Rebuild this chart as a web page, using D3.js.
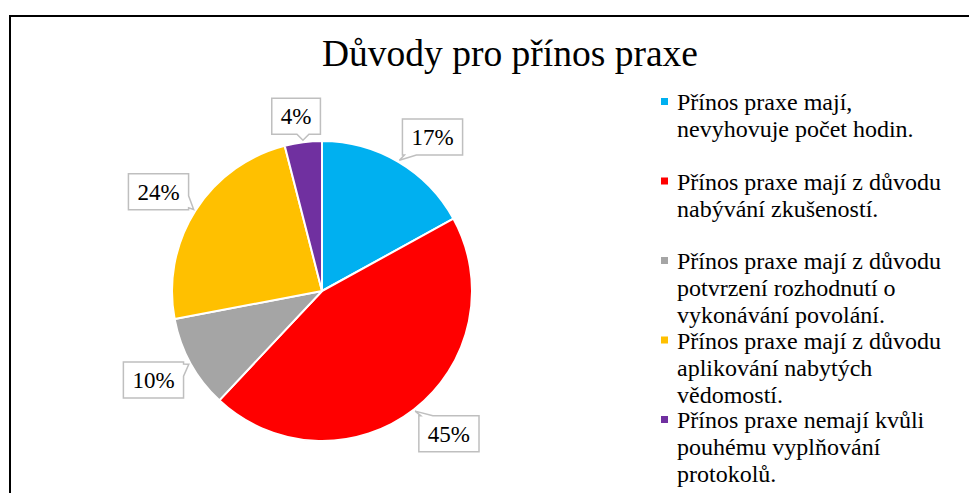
<!DOCTYPE html>
<html>
<head>
<meta charset="utf-8">
<script src="https://cdn.jsdelivr.net/npm/d3@7"></script>
<style>
  body { margin: 0; background: #fff; }
  svg { display: block; }
  text { font-family: "Liberation Serif", "Times New Roman", serif; }
</style>
</head>
<body>
<svg width="969" height="493"></svg>
<script>
// chart data
const chartTitle = 'Důvody pro přínos praxe';
const categories = [
    'Přínos praxe mají, nevyhovuje počet hodin.',
    'Přínos praxe mají z důvodu nabývání zkušeností.',
    'Přínos praxe mají z důvodu potvrzení rozhodnutí o vykonávání povolání.',
    'Přínos praxe mají z důvodu aplikování nabytých vědomostí.',
    'Přínos praxe nemají kvůli pouhému vyplňování protokolů.'
];
const values = [17, 45, 10, 24, 4];
const colors = ['#00b0f0', '#ff0000', '#a5a5a5', '#ffc000', '#7030a0'];

const svg = d3.select('svg');

// outer frame of the chart (cut by the window on the right and bottom)
svg.append('rect')
    .attr('x', 10).attr('y', 16)
    .attr('width', 1000).attr('height', 600)
    .attr('fill', 'none')
    .attr('stroke', '#000')
    .attr('stroke-width', 2);

svg.append('text')
    .attr('x', 510).attr('y', 66)
    .attr('text-anchor', 'middle')
    .attr('font-size', 37.5)
    .text(chartTitle);

/* pie */
const cx = 322, cy = 291, radius = 150;
const pie = d3.pie().sort(null).value(d => d);
const arcs = pie(values);
const arc = d3.arc().innerRadius(0).outerRadius(radius);

const g = svg.append('g').attr('transform', `translate(${cx},${cy})`);

g.selectAll('path.slice')
    .data(arcs)
    .enter()
    .append('path')
    .attr('class', 'slice')
    .attr('d', arc)
    .attr('fill', (d, i) => colors[i])
    .attr('stroke', '#fff')
    .attr('stroke-width', 2)
    .attr('stroke-linejoin', 'round');

/* callout labels: box pushed outward from an anchor just outside the rim,
   with a small tail pointing back at the slice */
const anchorArc = d3.arc().innerRadius(158).outerRadius(158);
const tipArc = d3.arc().innerRadius(152).outerRadius(152);
const clamp = (v, lo, hi) => Math.max(lo, Math.min(hi, v));

function calloutPath(x0, y0, x1, y1, tx, ty) {
    const hw = 6;
    let p;
    if (ty > y1) {
        const b = clamp(tx, x0 + 8, x1 - 8);
        p = [[x0, y0], [x1, y0], [x1, y1], [b + hw, y1], [tx, ty], [b - hw, y1], [x0, y1]];
    } else if (ty < y0) {
        const b = clamp(tx, x0 + 8, x1 - 8);
        p = [[x0, y0], [b - hw, y0], [tx, ty], [b + hw, y0], [x1, y0], [x1, y1], [x0, y1]];
    } else if (tx > x1) {
        const b = clamp(ty, y0 + 8, y1 - 8);
        p = [[x0, y0], [x1, y0], [x1, b - hw], [tx, ty], [x1, b + hw], [x1, y1], [x0, y1]];
    } else {
        const b = clamp(ty, y0 + 8, y1 - 8);
        p = [[x0, y0], [x1, y0], [x1, y1], [x0, y1], [x0, b + hw], [tx, ty], [x0, b - hw]];
    }
    return 'M' + p.map(q => q.join(',')).join('L') + 'Z';
}

const labelG = g.selectAll('g.lbl')
    .data(arcs)
    .enter()
    .append('g')
    .attr('class', 'lbl');

labelG.each(function (d) {
    const sel = d3.select(this);
    const txt = sel.append('text')
        .attr('text-anchor', 'middle')
        .attr('font-size', 23)
        .attr('fill', '#000')
        .text(d.value + '%');
    const w = txt.node().getComputedTextLength() + 18;
    const h = 36;
    const mid = (d.startAngle + d.endAngle) / 2;
    const [ax, ay] = anchorArc.centroid(d);
    const [tx, ty] = tipArc.centroid(d);
    const bx = ax + (w / 2) * clamp(Math.sin(mid) * 2, -1, 1);
    const by = ay - (h / 2) * clamp(Math.cos(mid) * 1.5, -1, 1);
    sel.insert('path', 'text')
        .attr('d', calloutPath(bx - w / 2, by - h / 2, bx + w / 2, by + h / 2, tx, ty))
        .attr('fill', '#fff')
        .attr('stroke', '#bfbfbf')
        .attr('stroke-width', 1.5);
    txt.attr('x', bx).attr('y', by + 8);
});

/* legend */
const legendX = 661, legendY = 110, entryStep = 79.5, lineH = 27, wrapW = 280;
const legend = svg.append('g');

categories.forEach((name, i) => {
    const y = legendY + i * entryStep;
    legend.append('rect')
        .attr('x', legendX).attr('y', y - 12)
        .attr('width', 7).attr('height', 7)
        .attr('fill', colors[i]);
    const t = legend.append('text')
        .attr('x', legendX + 16).attr('y', y)
        .attr('font-size', 24)
        .attr('fill', '#000');
    // simple word wrap
    const words = name.split(' ');
    let line = [];
    let ts = t.append('tspan').attr('x', legendX + 16).attr('y', y);
    let n = 0;
    words.forEach(wd => {
        line.push(wd);
        ts.text(line.join(' '));
        if (ts.node().getComputedTextLength() > wrapW && line.length > 1) {
            line.pop();
            ts.text(line.join(' '));
            line = [wd];
            n++;
            ts = t.append('tspan').attr('x', legendX + 16).attr('y', y + n * lineH).text(wd);
        }
    });
});
</script>
</body>
</html>
